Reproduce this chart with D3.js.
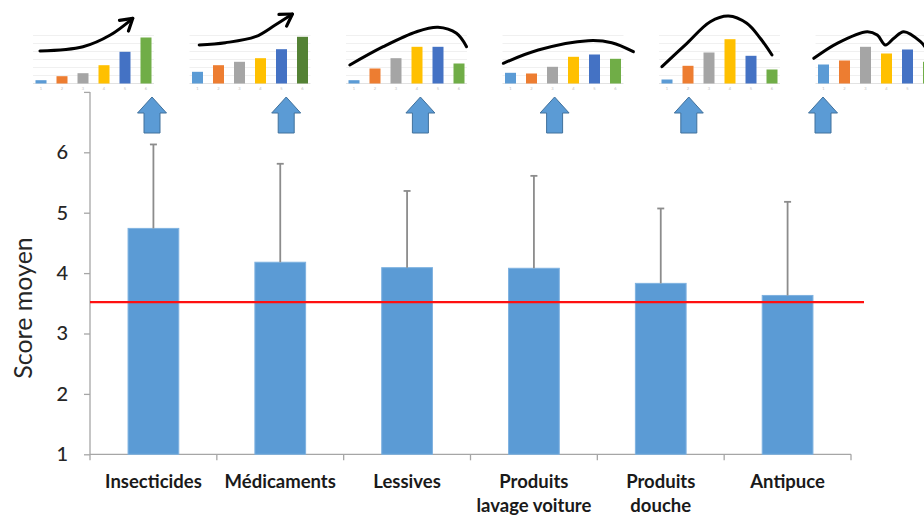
<!DOCTYPE html>
<html>
<head>
<meta charset="utf-8">
<script src="https://cdn.jsdelivr.net/npm/d3@7"></script>
<style>
  html, body { margin: 0; padding: 0; background: #ffffff; }
  svg { display: block; }
</style>
</head>
<body>
<svg id="chart" width="924" height="515"></svg>
<script>
// ---------------- data ----------------
const categories = ["Insecticides", "Médicaments", "Lessives", "Produits lavage voiture", "Produits douche", "Antipuce"];
const categoryLines = [["Insecticides"], ["Médicaments"], ["Lessives"], ["Produits", "lavage voiture"], ["Produits", "douche"], ["Antipuce"]];
const meanScores = [4.74, 4.18, 4.09, 4.08, 3.83, 3.63];
const errorTops = [6.13, 5.81, 5.36, 5.61, 5.07, 5.18];
const referenceScore = 3.52;
const yTickValues = [1, 2, 3, 4, 5, 6];
const yAxisTitle = "Score moyen";

// small illustrative distributions above each category (6 bars each)
const thumbValues = [
  [3.3, 7.3, 10.3, 18.3, 31.7, 46.0],
  [11.7, 18.3, 21.7, 25.3, 34.3, 46.7],
  [3.3, 15.0, 25.3, 36.7, 36.7, 20.0],
  [10.7, 10.0, 16.7, 26.7, 29.0, 24.7],
  [4.0, 17.7, 31.0, 44.3, 27.7, 14.0],
  [19.0, 23.0, 36.7, 30.0, 34.0, 21.7]
];
const thumbTickLabels = ["1", "2", "3", "4", "5", "6"];
// hand-drawn trend curves: [bar index, value]
const thumbCurves = [
  [[-0.05, 32.5], [2.0, 36.8], [3.3, 48.5], [4.37, 65.2]],
  [[0.08, 38.5], [1.33, 40.8], [2.76, 46.8], [3.7, 58.5], [4.52, 69.5]],
  [[-0.2, 18.5], [1.39, 36.8], [2.98, 51.8], [4.0, 56.2], [4.88, 50.2], [5.36, 36.8]],
  [[-0.34, 20.2], [1.32, 33.5], [3.7, 42.8], [4.82, 40.8], [5.85, 31.8]],
  [[-0.24, 16.8], [0.95, 40.2], [2.06, 61.8], [2.93, 67.5], [3.8, 60.2], [4.44, 45.2], [5.0, 28.5]],
  [[-0.46, 25.2], [0.65, 40.2], [2.08, 51.8], [2.56, 48.5], [2.95, 38.5], [3.35, 45.2], [3.82, 51.8], [4.62, 41.8], [4.94, 33.5]]
];
const thumbArrowHead = [true, true, false, false, false, false];
const thumbColors = [
  ["#5B9BD5", "#ED7D31", "#A5A5A5", "#FFC000", "#4472C4", "#70AD47"],
  ["#5B9BD5", "#ED7D31", "#A5A5A5", "#FFC000", "#4472C4", "#548235"],
  ["#5B9BD5", "#ED7D31", "#A5A5A5", "#FFC000", "#4472C4", "#70AD47"],
  ["#5B9BD5", "#ED7D31", "#A5A5A5", "#FFC000", "#4472C4", "#70AD47"],
  ["#5B9BD5", "#ED7D31", "#A5A5A5", "#FFC000", "#4472C4", "#70AD47"],
  ["#5B9BD5", "#ED7D31", "#A5A5A5", "#FFC000", "#4472C4", "#70AD47"]
];

// ---------------- layout ----------------
const W = 924;
const svg = d3.select("#chart");
const FONT = "Lato, 'Open Sans', 'DejaVu Sans', sans-serif";

const x = d3.scaleBand().domain(categories).range([90, 851]).paddingInner(0.6).paddingOuter(0.3);
const y = d3.scaleLinear().domain([1, 7]).range([454.3, 91.9]);

// ---------------- main axes ----------------
const axisColor = "#a6a6a6";
const yAxis = svg.append("g").attr("transform", "translate(90,0)")
  .call(d3.axisLeft(y).tickValues(d3.range(1, 8)).tickSize(6).tickPadding(16).tickFormat(d => yTickValues.includes(d) ? d : ""));
yAxis.select(".domain").attr("stroke", axisColor).attr("stroke-width", 1.3).attr("d", `M0,${y(7)}V${y(1)}`);
yAxis.selectAll(".tick line").attr("stroke", axisColor).attr("stroke-width", 1.3);
yAxis.selectAll(".tick text").attr("font-family", FONT).attr("font-size", 20).attr("fill", "#262626").attr("font-weight", 500);

const xAxisG = svg.append("g");
xAxisG.append("line").attr("x1", x.range()[0]).attr("x2", x.range()[1]).attr("y1", y(1)).attr("y2", y(1))
  .attr("stroke", axisColor).attr("stroke-width", 1.3);
const boundaries = categories.map(c => x(c) - x.step() * x.paddingOuter()).concat([x.range()[1]]);
xAxisG.selectAll("line.tk").data(boundaries).join("line").attr("class", "tk")
  .attr("x1", d => d).attr("x2", d => d).attr("y1", y(1)).attr("y2", y(1) + 6)
  .attr("stroke", axisColor).attr("stroke-width", 1.3);

// category labels
const labels = svg.append("g");
categories.forEach((c, i) => {
  const t = labels.append("text").attr("x", x(c) + x.bandwidth() / 2).attr("y", 488)
    .attr("text-anchor", "middle").attr("font-family", FONT).attr("font-weight", 700)
    .attr("font-size", 18.5).attr("fill", "#1a1a1a");
  categoryLines[i].forEach((ln, k) => {
    t.append("tspan").attr("x", x(c) + x.bandwidth() / 2).attr("dy", k === 0 ? 0 : 24).text(ln);
  });
});

// y title
svg.append("text").attr("transform", "translate(32,308) rotate(-90)")
  .attr("text-anchor", "middle").attr("font-family", FONT).attr("font-size", 25)
  .attr("fill", "#262626").text(yAxisTitle);

// ---------------- bars ----------------
svg.append("g").selectAll("rect").data(meanScores).join("rect")
  .attr("x", (d, i) => x(categories[i]))
  .attr("width", x.bandwidth())
  .attr("y", d => y(d))
  .attr("height", d => y(1) - y(d))
  .attr("fill", "#5B9BD5")
  .attr("stroke", "#7FB2E0").attr("stroke-width", 1);

// error bars
const eb = svg.append("g").attr("stroke", "#8c8c8c").attr("stroke-width", 1.8);
errorTops.forEach((e, i) => {
  const cx = x(categories[i]) + x.bandwidth() / 2;
  eb.append("line").attr("x1", cx).attr("x2", cx).attr("y1", y(meanScores[i])).attr("y2", y(e));
  eb.append("line").attr("x1", cx - 3.5).attr("x2", cx + 3.5).attr("y1", y(e)).attr("y2", y(e));
});

// reference line
svg.append("line").attr("x1", 90).attr("x2", 864).attr("y1", y(referenceScore)).attr("y2", y(referenceScore))
  .attr("stroke", "#ff1010").attr("stroke-width", 2.2);

// ---------------- thumbnails ----------------
const defs = svg.append("defs");
defs.append("marker").attr("id", "openhead").attr("markerUnits", "userSpaceOnUse")
  .attr("viewBox", "-15 -10 18 20").attr("refX", 0).attr("refY", 0)
  .attr("markerWidth", 18).attr("markerHeight", 20).attr("orient", "auto")
  .append("path").attr("d", "M-11.5,-7 L0,0 L-11.5,7").attr("fill", "none")
  .attr("stroke", "#000").attr("stroke-width", 3.2).attr("stroke-linejoin", "round").attr("stroke-linecap", "round");

const thumbPos = d3.scalePoint().domain(categories).range([41, 823.5]);
const tIdx = d3.scaleLinear().domain([0, 5]).range([0, 105]);
const tVal = d3.scaleLinear().domain([0, 50]).range([83.5, 33.5]);
const tBarW = 11;

categories.forEach((c, k) => {
  const ox = thumbPos(c);
  const g = svg.append("g").attr("transform", `translate(${ox},0)`);
  g.selectAll("line.grid").data([8, 16, 24, 32, 40, 48]).join("line").attr("class", "grid")
    .attr("x1", tIdx(0) - 8).attr("x2", tIdx(5) + 8).attr("y1", d => tVal(d)).attr("y2", d => tVal(d))
    .attr("stroke", "#f0f0f0").attr("stroke-width", 1);
  g.append("line").attr("x1", tIdx(0) - 8).attr("x2", tIdx(5) + 8).attr("y1", tVal(0)).attr("y2", tVal(0))
    .attr("stroke", "#e2e2e2").attr("stroke-width", 1);
  g.selectAll("rect").data(thumbValues[k]).join("rect")
    .attr("x", (d, j) => tIdx(j) - tBarW / 2).attr("width", tBarW)
    .attr("y", d => tVal(d)).attr("height", d => tVal(0) - tVal(d))
    .attr("fill", (d, j) => thumbColors[k][j]);
  // tiny tick labels (only those inside the frame)
  g.selectAll("text").data(thumbTickLabels.filter((d, j) => ox + tIdx(j) + 3 < W)).join("text")
    .attr("x", (d, j) => tIdx(j)).attr("y", 90).attr("text-anchor", "middle")
    .attr("font-family", FONT).attr("font-size", 4).attr("fill", "#c0c0c0").text(d => d);
  const line = d3.line().x(p => tIdx(p[0])).y(p => tVal(p[1])).curve(d3.curveCatmullRom.alpha(0.5));
  const path = g.append("path").attr("d", line(thumbCurves[k])).attr("fill", "none")
    .attr("stroke", "#000").attr("stroke-width", 3).attr("stroke-linecap", "round");
  if (thumbArrowHead[k]) path.attr("marker-end", "url(#openhead)");
});

// blue up arrows
const arrowPos = d3.scalePoint().domain(categories).range([152, 823]);
const arrowPath = (() => {
  const p = d3.path();
  p.moveTo(0, 97); p.lineTo(14.5, 113); p.lineTo(8, 113); p.lineTo(8, 133);
  p.lineTo(-8, 133); p.lineTo(-8, 113); p.lineTo(-14.5, 113); p.closePath();
  return p.toString();
})();
svg.append("g").selectAll("path").data(categories).join("path")
  .attr("transform", d => `translate(${arrowPos(d)},0)`)
  .attr("d", arrowPath).attr("fill", "#5B9BD5").attr("stroke", "#41719C").attr("stroke-width", 1)
  .attr("stroke-linejoin", "miter");
</script>
</body>
</html>
